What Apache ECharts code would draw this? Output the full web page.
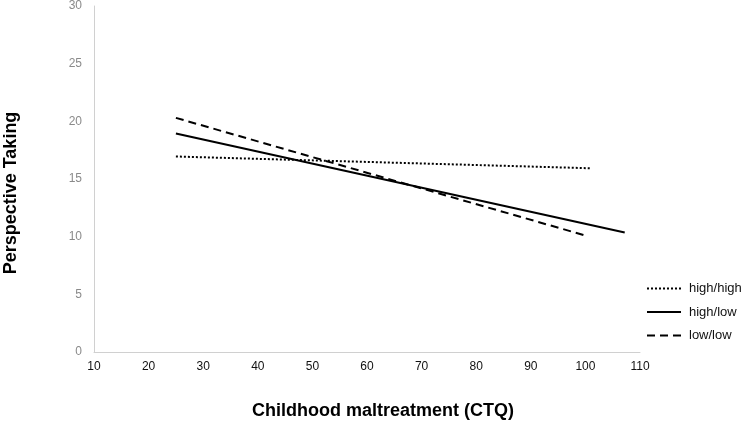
<!DOCTYPE html>
<html>
<head>
<meta charset="utf-8">
<script src="https://cdn.jsdelivr.net/npm/echarts@6/dist/echarts.min.js"></script>
<style>
html,body{margin:0;padding:0;background:#fff;}
#chart{width:743px;height:422px;}
</style>
</head>
<body>
<div id="chart"></div>
<script>
// Data
var seriesNames = ['high/high', 'high/low', 'low/low'];
var highHighX = [25, 101];
var highHighY = [16.95, 15.93];
var highLowX = [25, 107.2];
var highLowY = [18.95, 10.37];
var lowLowX = [25, 100];
var lowLowY = [20.3, 10.1];
var xTicks = [10, 20, 30, 40, 50, 60, 70, 80, 90, 100, 110];
var yTicks = [0, 5, 10, 15, 20, 25, 30];

function pairs(xs, ys) { return xs.map(function (x, i) { return [x, ys[i]]; }); }

var FONT = '"Liberation Sans", Arial, Helvetica, sans-serif';
var chart = echarts.init(document.getElementById('chart'), null, {renderer: 'canvas'});
chart.setOption({
  backgroundColor: '#fff',
  animation: false,
  grid: {left: 94, right: 103, top: 5, bottom: 70, containLabel: false},
  xAxis: {
    type: 'value', min: xTicks[0], max: xTicks[xTicks.length - 1], interval: 10,
    axisLine: {show: true, lineStyle: {color: '#d0d0d0', width: 1}},
    axisTick: {show: false},
    splitLine: {show: false},
    axisLabel: {color: '#111', fontSize: 12, fontFamily: FONT, margin: 9}
  },
  yAxis: {
    type: 'value', min: yTicks[0], max: yTicks[yTicks.length - 1], interval: 5,
    axisLine: {show: true, lineStyle: {color: '#d0d0d0', width: 1}},
    axisTick: {show: false},
    splitLine: {show: false},
    axisLabel: {color: '#8a8a8a', fontSize: 12, fontFamily: FONT, margin: 12}
  },
  legend: {
    orient: 'vertical', left: 646, top: 282, padding: 0,
    itemWidth: 34, itemHeight: 14, itemGap: 10.5,
    itemStyle: {opacity: 0},
    textStyle: {color: '#111', fontSize: 13, fontFamily: FONT, padding: [0, 0, 0, 3]},
    data: seriesNames
  },
  graphic: [
    {type: 'text', x: 383, y: 411, style: {text: 'Childhood maltreatment (CTQ)', font: 'bold 18px ' + FONT, fill: '#000', textAlign: 'center', textVerticalAlign: 'middle'}},
    {type: 'text', x: 11, y: 193, rotation: Math.PI / 2, style: {text: 'Perspective Taking', font: 'bold 18px ' + FONT, fill: '#000', textAlign: 'center', textVerticalAlign: 'middle'}}
  ],
  series: [
    {name: seriesNames[0], type: 'line', data: pairs(highHighX, highHighY), showSymbol: false, symbol: 'none',
     lineStyle: {color: '#000', width: 2, type: [2, 2]}, itemStyle: {color: '#000'}},
    {name: seriesNames[1], type: 'line', data: pairs(highLowX, highLowY), showSymbol: false, symbol: 'none',
     lineStyle: {color: '#000', width: 2, type: 'solid'}, itemStyle: {color: '#000'}},
    {name: seriesNames[2], type: 'line', data: pairs(lowLowX, lowLowY), showSymbol: false, symbol: 'none',
     lineStyle: {color: '#000', width: 2, type: [8, 5]}, itemStyle: {color: '#000'}}
  ]
});
</script>
</body>
</html>
